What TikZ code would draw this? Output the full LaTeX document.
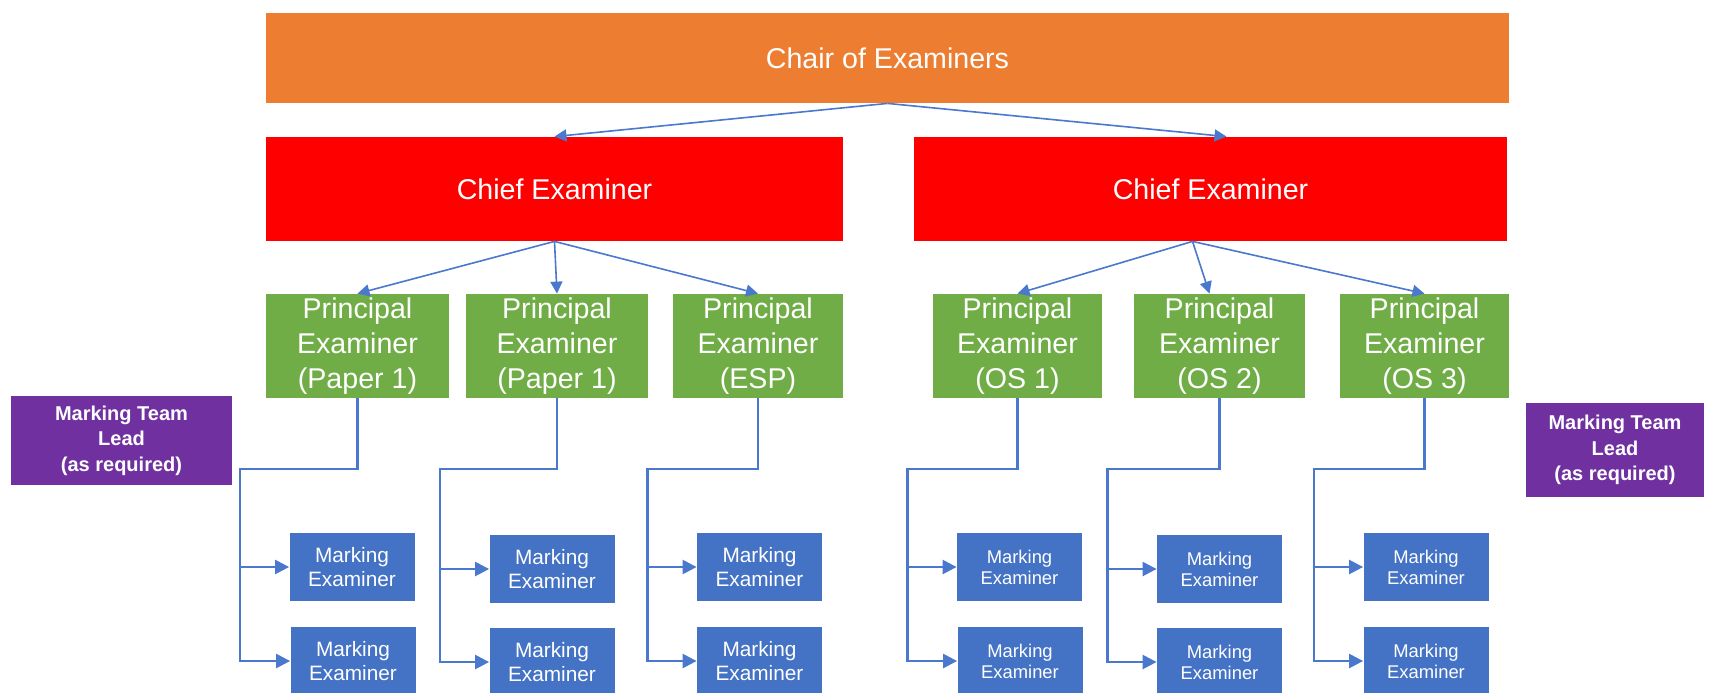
\documentclass[tikz,border=0pt]{standalone}
\usepackage{fontspec}
\setmainfont{Liberation Sans}
\usetikzlibrary{arrows.meta}

\begin{document}
\begin{tikzpicture}[x=0.5pt, y=-0.5pt,
  box/.style={fill=#1, text=white, inner sep=0pt, align=center},
  link/.style={draw=linkblue, line width=0.8pt, -{Triangle[length=6pt,width=6pt]}},
  feed/.style={draw=linkblue, line width=1.2pt, -{Triangle[length=7pt,width=7pt]}},
  bigtext/.style={font=\fontsize{14.3}{17.7}\selectfont},
  metext/.style={font=\fontsize{10.4}{12}\selectfont},
  smalltext/.style={font=\fontsize{9.2}{10.5}\selectfont},
  leadtext/.style={font=\bfseries\fontsize{10}{12.8}\selectfont}]

% Define colours
\definecolor{chairorange}{HTML}{ED7D31}
\definecolor{chiefred}{HTML}{FF0000}
\definecolor{pegreen}{HTML}{70AD47}
\definecolor{meblue}{HTML}{4472C4}
\definecolor{leadpurple}{HTML}{7030A0}
\definecolor{linkblue}{HTML}{4A78CC}

% Define picture size (pixels of the page)
\useasboundingbox (0,0) rectangle (1735,692);

% Draw chair and chief examiners
\node[box=chairorange, bigtext, minimum width=621.5pt, minimum height=45pt] (chair) at (887.5,58) {Chair of Examiners};
\node[box=chiefred, bigtext, minimum width=288.5pt, minimum height=52pt] (chiefL) at (554.5,189) {Chief Examiner};
\node[box=chiefred, bigtext, minimum width=296.5pt, minimum height=52pt] (chiefR) at (1210.5,189) {Chief Examiner};

% Draw principal examiners
\node[box=pegreen, bigtext, minimum width=91.5pt, minimum height=52pt] (pe1) at (357.5,346) {Principal\\Examiner\\(Paper 1)};
\node[box=pegreen, bigtext, minimum width=91pt, minimum height=52pt] (pe2) at (557,346) {Principal\\Examiner\\(Paper 1)};
\node[box=pegreen, bigtext, minimum width=85pt, minimum height=52pt] (pe3) at (758,346) {Principal\\Examiner\\(ESP)};
\node[box=pegreen, bigtext, minimum width=84.5pt, minimum height=52pt] (pe4) at (1017.5,346) {Principal\\Examiner\\(OS 1)};
\node[box=pegreen, bigtext, minimum width=85.5pt, minimum height=52pt] (pe5) at (1219.5,346) {Principal\\Examiner\\(OS 2)};
\node[box=pegreen, bigtext, minimum width=84.5pt, minimum height=52pt] (pe6) at (1424.5,346) {Principal\\Examiner\\(OS 3)};

% Draw marking team leads
\node[box=leadpurple, leadtext, minimum width=110.5pt, minimum height=44.5pt] (leadL) at (121.5,440.5) {Marking Team\\Lead\\(as required)};
\node[box=leadpurple, leadtext, minimum width=89pt, minimum height=47pt] (leadR) at (1615,450) {Marking Team\\Lead\\(as required)};

% Draw marking examiners (two rows)
\node[box=meblue, metext, minimum width=62.5pt, minimum height=34pt] (me1a) at (352,567) {Marking\\Examiner};
\node[box=meblue, metext, minimum width=62.5pt, minimum height=34pt] (me1b) at (353,661) {Marking\\Examiner};
\node[box=meblue, metext, minimum width=62.5pt, minimum height=34pt] (me2a) at (552,569) {Marking\\Examiner};
\node[box=meblue, metext, minimum width=62.5pt, minimum height=34pt] (me2b) at (552,662) {Marking\\Examiner};
\node[box=meblue, metext, minimum width=62.5pt, minimum height=34pt] (me3a) at (759.5,567) {Marking\\Examiner};
\node[box=meblue, metext, minimum width=62.5pt, minimum height=34pt] (me3b) at (759.5,661) {Marking\\Examiner};
\node[box=meblue, smalltext, minimum width=62.5pt, minimum height=34pt] (me4a) at (1019.5,567) {Marking\\Examiner};
\node[box=meblue, smalltext, minimum width=62.5pt, minimum height=34pt] (me4b) at (1020,661) {Marking\\Examiner};
\node[box=meblue, smalltext, minimum width=62.5pt, minimum height=34pt] (me5a) at (1219.5,569) {Marking\\Examiner};
\node[box=meblue, smalltext, minimum width=62.5pt, minimum height=34pt] (me5b) at (1219.5,662) {Marking\\Examiner};
\node[box=meblue, smalltext, minimum width=62.5pt, minimum height=34pt] (me6a) at (1426,567) {Marking\\Examiner};
\node[box=meblue, smalltext, minimum width=62.5pt, minimum height=34pt] (me6b) at (1426,661) {Marking\\Examiner};

% Draw arrows from chair to chiefs
\draw[link] (chair.south) -- (chiefL.north);
\draw[link] (chair.south) -- ([xshift=8pt]chiefR.north);

% Draw arrows from chiefs to principal examiners
\draw[link] (chiefL.south) -- (pe1.north);
\draw[link] (chiefL.south) -- (pe2.north);
\draw[link] (chiefL.south) -- (pe3.north);
\draw[link] ([xshift=-9pt]chiefR.south) -- (pe4.north);
\draw[link] ([xshift=-9pt]chiefR.south) -- ([xshift=-5pt]pe5.north);
\draw[link] ([xshift=-9pt]chiefR.south) -- (pe6.north);

% Draw elbow feeds down to marking examiners
\coordinate (bend1) at ([xshift=-24.5pt]me1a.west |- 0,469);
\coordinate (bend2) at ([xshift=-24.5pt]me2a.west |- 0,469);
\coordinate (bend3) at ([xshift=-24.5pt]me3a.west |- 0,469);
\coordinate (bend4) at ([xshift=-24.5pt]me4a.west |- 0,469);
\coordinate (bend5) at ([xshift=-24.5pt]me5a.west |- 0,469);
\coordinate (bend6) at ([xshift=-24.5pt]me6a.west |- 0,469);

\draw[feed] (pe1.south) |- (bend1) |- (me1b.west);
\draw[feed] (bend1 |- me1a.west) -- (me1a.west);
\draw[feed] (pe2.south) |- (bend2) |- (me2b.west);
\draw[feed] (bend2 |- me2a.west) -- (me2a.west);
\draw[feed] (pe3.south) |- (bend3) |- (me3b.west);
\draw[feed] (bend3 |- me3a.west) -- (me3a.west);
\draw[feed] (pe4.south) |- (bend4) |- (me4b.west);
\draw[feed] (bend4 |- me4a.west) -- (me4a.west);
\draw[feed] (pe5.south) |- (bend5) |- (me5b.west);
\draw[feed] (bend5 |- me5a.west) -- (me5a.west);
\draw[feed] (pe6.south) |- (bend6) |- (me6b.west);
\draw[feed] (bend6 |- me6a.west) -- (me6a.west);

\end{tikzpicture}
\end{document}
